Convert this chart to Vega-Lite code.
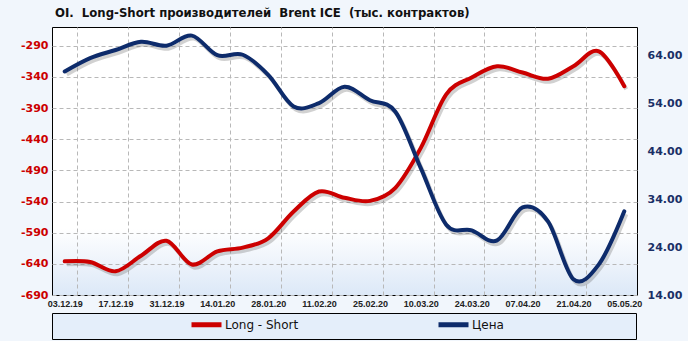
{
  "$schema": "https://vega.github.io/schema/vega-lite/v6.json",
  "width": 585,
  "height": 268,
  "autosize": {"type": "none"},
  "padding": {"left": 52, "top": 27, "right": 51, "bottom": 46},
  "background": "#f1f6fc",
  "title": {
    "text": "OI.\u00a0 Long-Short производителей\u00a0 Brent ICE\u00a0 (тыс. контрактов)",
    "anchor": "start",
    "frame": "group",
    "font": "DejaVu Sans Condensed",
    "fontSize": 13,
    "fontWeight": "bold",
    "color": "#111111",
    "dx": 3,
    "offset": 7
  },
  "config": {
    "axis": {"labelOverlap": false, "labelSeparation": 0},
    "view": {
      "stroke": "black",
      "strokeWidth": 1,
      "fill": {
        "gradient": "linear", "x1": 0, "y1": 0, "x2": 0, "y2": 1,
        "stops": [
          {"offset": 0, "color": "#ffffff"},
          {"offset": 0.75, "color": "#ffffff"},
          {"offset": 1, "color": "#dce8f7"}
        ]
      }
    },
    "legend": {
      "orient": "none",
      "legendX": 0,
      "legendY": 286,
      "direction": "horizontal",
      "fillColor": "#e4eefa",
      "strokeColor": "black",
      "padding": 4,
      "symbolType": "M-3,0H3",
      "symbolSize": 100,
      "symbolStrokeWidth": 5,
      "symbolOffset": 143,
      "labelOffset": 11,
      "labelFont": "DejaVu Sans",
      "labelFontSize": 12,
      "labelColor": "#111111",
      "columnPadding": 4,
      "titleOrient": "right",
      "titlePadding": 128
    }
  },
  "data": {
    "values": [
      {"date": "2019-12-03", "ls": -636, "price": 60.7},
      {"date": "2019-12-10", "ls": -637, "price": 63.5},
      {"date": "2019-12-17", "ls": -652, "price": 65.2},
      {"date": "2019-12-24", "ls": -627, "price": 66.9},
      {"date": "2019-12-31", "ls": -603, "price": 66.1},
      {"date": "2020-01-07", "ls": -641, "price": 68.2},
      {"date": "2020-01-14", "ls": -620, "price": 64.1},
      {"date": "2020-01-21", "ls": -614, "price": 64.2},
      {"date": "2020-01-28", "ls": -599, "price": 60.0},
      {"date": "2020-02-04", "ls": -556, "price": 53.4},
      {"date": "2020-02-11", "ls": -524, "price": 54.1},
      {"date": "2020-02-18", "ls": -534, "price": 57.5},
      {"date": "2020-02-25", "ls": -539, "price": 54.7},
      {"date": "2020-03-03", "ls": -518, "price": 52.3},
      {"date": "2020-03-10", "ls": -454, "price": 40.5},
      {"date": "2020-03-17", "ls": -368, "price": 28.7},
      {"date": "2020-03-24", "ls": -341, "price": 27.5},
      {"date": "2020-03-31", "ls": -323, "price": 25.4},
      {"date": "2020-04-07", "ls": -333, "price": 32.3},
      {"date": "2020-04-14", "ls": -343, "price": 29.4},
      {"date": "2020-04-21", "ls": -323, "price": 17.3},
      {"date": "2020-04-28", "ls": -299, "price": 20.4},
      {"date": "2020-05-05", "ls": -355, "price": 31.5}
    ]
  },
  "layer": [
    {
      "layer": [
        {
          "mark": {"type": "line", "interpolate": "cardinal", "color": "#666666", "opacity": 0.3, "strokeWidth": 4, "xOffset": 2, "yOffset": 3},
          "encoding": {
            "x": {
              "field": "date", "type": "temporal",
              "scale": {"type": "utc", "domain": [{"year": 2019, "month": 11, "date": 29, "hours": 12, "utc": true}, {"year": 2020, "month": 5, "date": 8, "hours": 12, "utc": true}]},
              "axis": {
                "title": null,
                "values": [
                  {"year": 2019, "month": 12, "date": 3, "utc": true},
                  {"year": 2019, "month": 12, "date": 17, "utc": true},
                  {"year": 2019, "month": 12, "date": 31, "utc": true},
                  {"year": 2020, "month": 1, "date": 14, "utc": true},
                  {"year": 2020, "month": 1, "date": 28, "utc": true},
                  {"year": 2020, "month": 2, "date": 11, "utc": true},
                  {"year": 2020, "month": 2, "date": 25, "utc": true},
                  {"year": 2020, "month": 3, "date": 10, "utc": true},
                  {"year": 2020, "month": 3, "date": 24, "utc": true},
                  {"year": 2020, "month": 4, "date": 7, "utc": true},
                  {"year": 2020, "month": 4, "date": 21, "utc": true},
                  {"year": 2020, "month": 5, "date": 5, "utc": true}
                ],
                "labelExpr": "utcFormat(datum.value, '%d.%m.%y')",
                "grid": false,
                "ticks": false,
                "domain": false,
                "labelFont": "Liberation Sans",
                "labelFontSize": 9,
                "labelFontWeight": "bold",
                "labelColor": "#222222",
                "labelPadding": 4,
                "labelFlush": false,
                "labelOverlap": false
              }
            },
            "y": {
              "field": "ls", "type": "quantitative",
              "scale": {"domain": [-690, -260], "nice": false, "zero": false},
              "axis": {
                "title": null,
                "values": [-690, -640, -590, -540, -490, -440, -390, -340, -290],
                "labelExpr": "'' + datum.value",
                "grid": true,
                "gridDash": [4, 3],
                "gridColor": "#b8b8b8",
                "ticks": false,
                "domain": false,
                "labelFont": "DejaVu Sans",
                "labelFontSize": 11,
                "labelFontWeight": "bold",
                "labelColor": "#cc0000",
                "labelPadding": 4,
                "labelFlush": false,
                "labelOverlap": false
              }
            }
          }
        },
        {
          "mark": {"type": "line", "interpolate": "cardinal", "strokeWidth": 4, "strokeCap": "round"},
          "encoding": {
            "x": {"field": "date", "type": "temporal"},
            "y": {
              "field": "ls", "type": "quantitative",
              "axis": {
                "title": null,
                "values": [-690, -640, -590, -540, -490, -440, -390, -340, -290],
                "labelExpr": "'' + datum.value",
                "grid": true,
                "gridDash": [4, 3],
                "gridColor": "#b8b8b8",
                "ticks": false,
                "domain": false,
                "labelFont": "DejaVu Sans",
                "labelFontSize": 11,
                "labelFontWeight": "bold",
                "labelColor": "#cc0000",
                "labelPadding": 4,
                "labelFlush": false,
                "labelOverlap": false
              }
            },
            "color": {
              "datum": "Long - Short", "type": "nominal",
              "scale": {"domain": ["Long - Short", "Цена"], "range": ["#cc0000", "#0d2b6b"]},
              "legend": {"title": "\u00a0"}
            }
          }
        }
      ]
    },
    {
      "layer": [
        {
          "mark": {"type": "line", "interpolate": "cardinal", "color": "#666666", "opacity": 0.3, "strokeWidth": 4, "xOffset": 2, "yOffset": 3},
          "encoding": {
            "x": {
              "field": "date", "type": "temporal",
              "axis": {
                "orient": "top",
                "title": null,
                "labels": false,
                "ticks": false,
                "domain": false,
                "grid": true,
                "gridDash": [4, 3],
                "gridColor": "#b8b8b8",
                "values": [
                  {"year": 2019, "month": 12, "date": 6, "hours": 12, "utc": true},
                  {"year": 2019, "month": 12, "date": 13, "hours": 12, "utc": true},
                  {"year": 2019, "month": 12, "date": 20, "hours": 12, "utc": true},
                  {"year": 2019, "month": 12, "date": 27, "hours": 12, "utc": true},
                  {"year": 2020, "month": 1, "date": 3, "hours": 12, "utc": true},
                  {"year": 2020, "month": 1, "date": 10, "hours": 12, "utc": true},
                  {"year": 2020, "month": 1, "date": 17, "hours": 12, "utc": true},
                  {"year": 2020, "month": 1, "date": 24, "hours": 12, "utc": true},
                  {"year": 2020, "month": 1, "date": 31, "hours": 12, "utc": true},
                  {"year": 2020, "month": 2, "date": 7, "hours": 12, "utc": true},
                  {"year": 2020, "month": 2, "date": 14, "hours": 12, "utc": true},
                  {"year": 2020, "month": 2, "date": 21, "hours": 12, "utc": true},
                  {"year": 2020, "month": 2, "date": 28, "hours": 12, "utc": true},
                  {"year": 2020, "month": 3, "date": 6, "hours": 12, "utc": true},
                  {"year": 2020, "month": 3, "date": 13, "hours": 12, "utc": true},
                  {"year": 2020, "month": 3, "date": 20, "hours": 12, "utc": true},
                  {"year": 2020, "month": 3, "date": 27, "hours": 12, "utc": true},
                  {"year": 2020, "month": 4, "date": 3, "hours": 12, "utc": true},
                  {"year": 2020, "month": 4, "date": 10, "hours": 12, "utc": true},
                  {"year": 2020, "month": 4, "date": 17, "hours": 12, "utc": true},
                  {"year": 2020, "month": 4, "date": 24, "hours": 12, "utc": true},
                  {"year": 2020, "month": 5, "date": 1, "hours": 12, "utc": true}
                ]
              }
            },
            "y": {
              "field": "price", "type": "quantitative",
              "scale": {"domain": [14, 70], "nice": false, "zero": false},
              "axis": {
                "orient": "right",
                "title": null,
                "values": [14, 24, 34, 44, 54, 64],
                "format": ".2f",
                "grid": false,
                "ticks": false,
                "domain": false,
                "labelFont": "DejaVu Sans",
                "labelFontSize": 11,
                "labelFontWeight": "bold",
                "labelColor": "#1a2f66",
                "labelPadding": 10,
                "labelFlush": false,
                "labelOverlap": false
              }
            }
          }
        },
        {
          "mark": {"type": "line", "interpolate": "cardinal", "strokeWidth": 4, "strokeCap": "round"},
          "encoding": {
            "x": {"field": "date", "type": "temporal"},
            "y": {"field": "price", "type": "quantitative"},
            "color": {"datum": "Цена", "type": "nominal"}
          }
        }
      ]
    }
  ],
  "resolve": {"scale": {"y": "independent"}, "axis": {"x": "independent"}}
}
